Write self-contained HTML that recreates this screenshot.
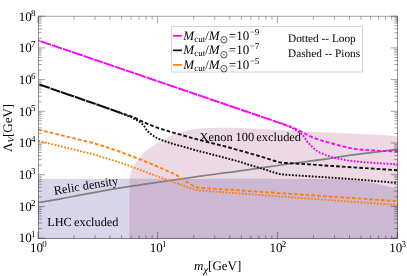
<!DOCTYPE html><html><head><meta charset="utf-8"><title>plot</title>
<style>html,body{margin:0;padding:0;background:#fff}svg{display:block;will-change:transform}text{text-rendering:geometricPrecision;font-family:"Liberation Serif","DejaVu Serif",serif;fill:#000}</style></head><body>
<svg width="407" height="276" viewBox="0 0 407 276">
<rect width="407" height="276" fill="#fff"/>
<defs><clipPath id="c"><rect x="38.0" y="16.0" width="360.0" height="223.0"/></clipPath></defs>
<g clip-path="url(#c)">
<path d="M38.00,178.90 C125.33,178.90 212.67,178.78 300.00,178.90 C313.33,178.92 326.68,178.83 340.00,179.30 C346.68,179.53 353.36,180.20 360.00,181.00 C365.03,181.60 370.02,182.54 375.00,183.50 C378.36,184.14 381.67,185.00 385.00,185.80 C389.34,186.84 393.67,187.93 398.00,189.00 L398,240 L38,240 Z" fill="rgb(60,50,145)" fill-opacity="0.2"/>
<path d="M129.30,240.00 C129.33,226.67 129.29,213.33 129.40,200.00 C129.46,192.90 129.42,185.78 129.80,178.70 C129.92,176.51 130.34,174.31 130.90,172.20 C131.40,170.31 132.07,168.41 133.00,166.70 C134.24,164.41 135.82,162.28 137.40,160.20 C138.72,158.45 140.15,156.75 141.70,155.20 C143.78,153.12 145.98,151.11 148.30,149.30 C151.08,147.14 154.01,145.16 157.00,143.30 C159.81,141.56 162.74,139.99 165.70,138.50 C169.24,136.72 172.80,134.91 176.50,133.50 C180.04,132.15 183.70,131.00 187.40,130.20 C191.53,129.30 195.78,128.75 200.00,128.40 C204.98,127.99 210.00,127.95 215.00,127.90 C223.33,127.82 231.67,127.76 240.00,128.00 C250.01,128.29 260.00,128.97 270.00,129.50 C280.00,130.03 290.00,130.70 300.00,131.20 C313.33,131.87 326.67,132.35 340.00,133.00 C350.00,133.49 360.00,134.03 370.00,134.60 C379.34,135.13 388.67,135.73 398.00,136.30 L398,240 Z" fill="rgb(160,65,120)" fill-opacity="0.2"/>
<path d="M38.50,202.50 C45.87,201.27 53.25,200.12 60.60,198.80 C68.85,197.32 77.06,195.62 85.30,194.10 C93.49,192.59 101.69,191.12 109.90,189.70 C118.09,188.28 126.29,186.89 134.50,185.60 C137.99,185.05 141.51,184.70 145.00,184.20 C164.67,181.37 184.32,178.36 204.00,175.60 C214.32,174.16 224.68,173.02 235.00,171.60 C244.84,170.25 254.66,168.70 264.50,167.30 C274.33,165.90 284.16,164.52 294.00,163.20 C302.49,162.06 311.01,161.10 319.50,159.90 C329.35,158.50 339.14,156.73 349.00,155.40 C365.14,153.23 381.33,151.40 397.50,149.40" fill="none" stroke="#808080" stroke-width="1.7"/>
<path d="M38.50,40.50 C62.33,48.63 86.17,56.76 110.00,64.90 C140.00,75.16 170.00,85.44 200.00,95.70 C227.66,105.16 255.33,114.60 283.00,124.05" fill="none" stroke="#ff00ff" stroke-width="1.9" stroke-dasharray="11.4,1.0,10.5,0.9,8.7,0.8" stroke-dashoffset="-2"/>
<path d="M283.00,124.00 C286.13,125.13 289.32,126.14 292.40,127.40 C294.88,128.41 297.30,129.61 299.70,130.80 C302.20,132.04 304.59,133.48 307.10,134.70 C309.53,135.88 311.99,137.00 314.50,138.00 C316.93,138.97 319.41,139.80 321.90,140.60 C324.31,141.37 326.76,142.02 329.20,142.70 C331.66,143.39 334.13,144.05 336.60,144.70 C339.06,145.35 341.52,146.02 344.00,146.60 C347.55,147.42 351.09,148.39 354.70,148.90 C359.59,149.59 364.56,149.85 369.50,150.20 C374.39,150.55 379.30,150.79 384.20,151.00 C388.63,151.19 393.07,151.27 397.50,151.40" fill="none" stroke="#ff00ff" stroke-width="1.9000000000000001" stroke-dasharray="3.7,2.1" stroke-dashoffset="0"/>
<path d="M283.00,124.20 C286.13,125.53 289.33,126.74 292.40,128.20 C294.33,129.11 296.22,130.13 298.00,131.30 C299.42,132.23 300.77,133.33 302.00,134.50 C302.97,135.43 303.79,136.52 304.60,137.60 C305.49,138.79 306.16,140.15 307.10,141.30 C308.46,142.98 309.99,144.54 311.50,146.10 C312.63,147.27 313.72,148.51 315.00,149.50 C316.39,150.58 317.93,151.51 319.50,152.30 C321.89,153.51 324.38,154.57 326.90,155.50 C329.28,156.37 331.74,157.06 334.20,157.70 C336.64,158.33 339.12,158.81 341.60,159.30 C344.06,159.78 346.52,160.29 349.00,160.60 C354.32,161.26 359.66,161.73 365.00,162.20 C369.99,162.63 375.00,162.98 380.00,163.30 C385.83,163.68 391.67,163.97 397.50,164.30" fill="none" stroke="#ff00ff" stroke-width="1.9000000000000001" stroke-dasharray="1.8,1.5" stroke-dashoffset="0"/>
<path d="M38.50,84.20 C57.33,90.73 76.18,97.24 95.00,103.80 C102.68,106.47 110.33,109.20 118.00,111.90" fill="none" stroke="#101010" stroke-width="2.1" stroke-dasharray="10.9,0.9,10.1,0.8,14.0,0.9" stroke-dashoffset="-1"/>
<path d="M118.00,111.85 C120.33,112.67 122.68,113.46 125.00,114.30 C128.34,115.51 131.72,116.65 135.00,118.00 C136.89,118.78 138.64,119.87 140.50,120.70 C145.14,122.77 149.75,124.93 154.50,126.70 C159.31,128.50 164.28,129.90 169.20,131.40 C174.11,132.90 179.06,134.30 184.00,135.70 C190.02,137.40 196.04,139.12 202.10,140.70 C209.44,142.62 216.85,144.29 224.20,146.20 C229.15,147.49 234.07,148.93 239.00,150.30 C242.57,151.29 246.14,152.27 249.70,153.30 C254.64,154.73 259.58,156.19 264.50,157.70 C267.95,158.76 271.36,159.91 274.80,161.00 C275.86,161.34 276.92,161.72 278.00,162.00 C278.99,162.25 279.99,162.48 281.00,162.60 C282.86,162.82 284.73,162.89 286.60,163.00 C289.07,163.15 291.53,163.24 294.00,163.40 C302.50,163.94 311.00,164.53 319.50,165.10 C329.33,165.76 339.17,166.46 349.00,167.10 C365.17,168.16 381.33,169.17 397.50,170.20" fill="none" stroke="#101010" stroke-width="1.9000000000000001" stroke-dasharray="3.7,2.1" stroke-dashoffset="0"/>
<path d="M118.00,112.10 C120.33,113.00 122.68,113.87 125.00,114.80 C127.34,115.74 129.71,116.64 132.00,117.70 C134.04,118.64 136.07,119.66 138.00,120.80 C139.23,121.53 140.42,122.36 141.50,123.30 C142.49,124.16 143.39,125.16 144.20,126.20 C145.26,127.56 145.97,129.21 147.10,130.50 C148.40,131.98 149.92,133.32 151.50,134.50 C153.35,135.88 155.35,137.12 157.40,138.20 C159.28,139.19 161.31,139.94 163.30,140.70 C165.24,141.44 167.22,142.07 169.20,142.70 C171.65,143.47 174.12,144.21 176.60,144.90 C179.05,145.58 181.55,146.11 184.00,146.80 C187.58,147.81 191.11,149.01 194.70,150.00 C199.61,151.35 204.57,152.53 209.50,153.80 C214.40,155.06 219.31,156.31 224.20,157.60 C229.14,158.91 234.09,160.18 239.00,161.60 C242.59,162.64 246.12,163.91 249.70,165.00 C254.62,166.51 259.58,167.89 264.50,169.40 C267.95,170.46 271.36,171.63 274.80,172.70 C276.19,173.13 277.58,173.59 279.00,173.90 C280.31,174.19 281.66,174.37 283.00,174.50 C286.66,174.84 290.33,175.06 294.00,175.30 C302.50,175.86 311.00,176.34 319.50,176.90 C329.33,177.54 339.17,178.14 349.00,178.90 C365.17,180.14 381.33,181.57 397.50,182.90" fill="none" stroke="#101010" stroke-width="1.9000000000000001" stroke-dasharray="1.8,1.5" stroke-dashoffset="0"/>
<path d="M38.50,129.70 C47.67,131.93 56.84,134.15 66.00,136.40 C75.67,138.78 85.37,141.06 95.00,143.60 C98.27,144.46 101.48,145.55 104.70,146.60 C109.65,148.22 114.60,149.84 119.50,151.60 C124.43,153.37 129.31,155.31 134.20,157.20 C139.14,159.11 144.09,161.00 149.00,163.00 C152.59,164.47 156.15,166.04 159.70,167.60 C164.65,169.77 169.67,171.81 174.50,174.20 C177.07,175.47 179.47,177.08 181.90,178.60 C184.37,180.14 186.71,181.89 189.20,183.40 C191.11,184.56 193.05,185.75 195.10,186.60 C196.52,187.19 198.08,187.46 199.60,187.70 C201.05,187.93 202.53,187.90 204.00,188.00 C219.33,189.03 234.67,190.06 250.00,191.10 C266.10,192.19 282.20,193.31 298.30,194.40 C315.53,195.57 332.77,196.74 350.00,197.90 C365.83,198.97 381.67,200.03 397.50,201.10" fill="none" stroke="#ff8010" stroke-width="1.9" stroke-dasharray="3.7,2.1" stroke-dashoffset="0"/>
<path d="M38.50,140.90 C47.67,143.13 56.84,145.35 66.00,147.60 C75.67,149.98 85.38,152.24 95.00,154.80 C98.28,155.67 101.46,156.89 104.70,157.90 C109.62,159.43 114.60,160.79 119.50,162.40 C124.44,164.02 129.32,165.81 134.20,167.60 C139.15,169.41 144.06,171.34 149.00,173.20 C152.56,174.54 156.11,175.92 159.70,177.20 C164.61,178.95 169.59,180.53 174.50,182.30 C177.46,183.37 180.35,184.62 183.30,185.70 C186.25,186.78 189.20,187.89 192.20,188.80 C194.13,189.39 196.11,189.86 198.10,190.20 C200.04,190.53 202.03,190.65 204.00,190.80 C219.33,191.98 234.67,193.06 250.00,194.20 C266.10,195.40 282.20,196.61 298.30,197.80 C315.53,199.08 332.77,200.35 350.00,201.60 C365.83,202.75 381.67,203.87 397.50,205.00" fill="none" stroke="#ff8010" stroke-width="1.8" stroke-dasharray="1.8,1.5" stroke-dashoffset="0"/>
</g>
<path d="M38.5,16.3H397.5" fill="none" stroke="#000" stroke-opacity="0.6" stroke-width="0.6"/>
<path d="M38.5,16.3V238.5 M397.5,16.3V238.5 M38.2,238.5H397.8" fill="none" stroke="#000" stroke-opacity="0.6" stroke-width="0.7"/>
<path d="M37.90,238.5v-6.6 M37.90,16.5v6.6 M73.95,238.5v-3.2 M73.95,16.5v3.2 M95.04,238.5v-3.2 M95.04,16.5v3.2 M110.00,238.5v-3.2 M110.00,16.5v3.2 M121.60,238.5v-3.2 M121.60,16.5v3.2 M131.08,238.5v-3.2 M131.08,16.5v3.2 M139.10,238.5v-3.2 M139.10,16.5v3.2 M146.05,238.5v-3.2 M146.05,16.5v3.2 M152.17,238.5v-3.2 M152.17,16.5v3.2 M157.65,238.5v-6.6 M157.65,16.5v6.6 M193.70,238.5v-3.2 M193.70,16.5v3.2 M214.79,238.5v-3.2 M214.79,16.5v3.2 M229.75,238.5v-3.2 M229.75,16.5v3.2 M241.35,238.5v-3.2 M241.35,16.5v3.2 M250.83,238.5v-3.2 M250.83,16.5v3.2 M258.85,238.5v-3.2 M258.85,16.5v3.2 M265.80,238.5v-3.2 M265.80,16.5v3.2 M271.92,238.5v-3.2 M271.92,16.5v3.2 M277.40,238.5v-6.6 M277.40,16.5v6.6 M313.45,238.5v-3.2 M313.45,16.5v3.2 M334.54,238.5v-3.2 M334.54,16.5v3.2 M349.50,238.5v-3.2 M349.50,16.5v3.2 M361.10,238.5v-3.2 M361.10,16.5v3.2 M370.58,238.5v-3.2 M370.58,16.5v3.2 M378.60,238.5v-3.2 M378.60,16.5v3.2 M385.55,238.5v-3.2 M385.55,16.5v3.2 M391.67,238.5v-3.2 M391.67,16.5v3.2 M397.15,238.5v-6.6 M397.15,16.5v6.6 M38.5,238.10h6.6 M397.5,238.10h-6.6 M38.5,228.56h3.2 M397.5,228.56h-3.2 M38.5,222.98h3.2 M397.5,222.98h-3.2 M38.5,219.01h3.2 M397.5,219.01h-3.2 M38.5,215.94h3.2 M397.5,215.94h-3.2 M38.5,213.43h3.2 M397.5,213.43h-3.2 M38.5,211.31h3.2 M397.5,211.31h-3.2 M38.5,209.47h3.2 M397.5,209.47h-3.2 M38.5,207.85h3.2 M397.5,207.85h-3.2 M38.5,206.40h6.6 M397.5,206.40h-6.6 M38.5,196.86h3.2 M397.5,196.86h-3.2 M38.5,191.28h3.2 M397.5,191.28h-3.2 M38.5,187.31h3.2 M397.5,187.31h-3.2 M38.5,184.24h3.2 M397.5,184.24h-3.2 M38.5,181.73h3.2 M397.5,181.73h-3.2 M38.5,179.61h3.2 M397.5,179.61h-3.2 M38.5,177.77h3.2 M397.5,177.77h-3.2 M38.5,176.15h3.2 M397.5,176.15h-3.2 M38.5,174.70h6.6 M397.5,174.70h-6.6 M38.5,165.16h3.2 M397.5,165.16h-3.2 M38.5,159.58h3.2 M397.5,159.58h-3.2 M38.5,155.61h3.2 M397.5,155.61h-3.2 M38.5,152.54h3.2 M397.5,152.54h-3.2 M38.5,150.03h3.2 M397.5,150.03h-3.2 M38.5,147.91h3.2 M397.5,147.91h-3.2 M38.5,146.07h3.2 M397.5,146.07h-3.2 M38.5,144.45h3.2 M397.5,144.45h-3.2 M38.5,143.00h6.6 M397.5,143.00h-6.6 M38.5,133.46h3.2 M397.5,133.46h-3.2 M38.5,127.88h3.2 M397.5,127.88h-3.2 M38.5,123.91h3.2 M397.5,123.91h-3.2 M38.5,120.84h3.2 M397.5,120.84h-3.2 M38.5,118.33h3.2 M397.5,118.33h-3.2 M38.5,116.21h3.2 M397.5,116.21h-3.2 M38.5,114.37h3.2 M397.5,114.37h-3.2 M38.5,112.75h3.2 M397.5,112.75h-3.2 M38.5,111.30h6.6 M397.5,111.30h-6.6 M38.5,101.76h3.2 M397.5,101.76h-3.2 M38.5,96.18h3.2 M397.5,96.18h-3.2 M38.5,92.21h3.2 M397.5,92.21h-3.2 M38.5,89.14h3.2 M397.5,89.14h-3.2 M38.5,86.63h3.2 M397.5,86.63h-3.2 M38.5,84.51h3.2 M397.5,84.51h-3.2 M38.5,82.67h3.2 M397.5,82.67h-3.2 M38.5,81.05h3.2 M397.5,81.05h-3.2 M38.5,79.60h6.6 M397.5,79.60h-6.6 M38.5,70.06h3.2 M397.5,70.06h-3.2 M38.5,64.48h3.2 M397.5,64.48h-3.2 M38.5,60.51h3.2 M397.5,60.51h-3.2 M38.5,57.44h3.2 M397.5,57.44h-3.2 M38.5,54.93h3.2 M397.5,54.93h-3.2 M38.5,52.81h3.2 M397.5,52.81h-3.2 M38.5,50.97h3.2 M397.5,50.97h-3.2 M38.5,49.35h3.2 M397.5,49.35h-3.2 M38.5,47.90h6.6 M397.5,47.90h-6.6 M38.5,38.36h3.2 M397.5,38.36h-3.2 M38.5,32.78h3.2 M397.5,32.78h-3.2 M38.5,28.81h3.2 M397.5,28.81h-3.2 M38.5,25.74h3.2 M397.5,25.74h-3.2 M38.5,23.23h3.2 M397.5,23.23h-3.2 M38.5,21.11h3.2 M397.5,21.11h-3.2 M38.5,19.27h3.2 M397.5,19.27h-3.2 M38.5,17.65h3.2 M397.5,17.65h-3.2 M38.5,16.20h6.6 M397.5,16.20h-6.6" fill="none" stroke="#000" stroke-opacity="0.62" stroke-width="0.6"/>
<text x="35.5" y="242.40" text-anchor="end" font-size="13">10<tspan dx="-0.8" dy="-5" font-size="9">1</tspan></text>
<text x="35.5" y="210.70" text-anchor="end" font-size="13">10<tspan dx="-0.8" dy="-5" font-size="9">2</tspan></text>
<text x="35.5" y="179.00" text-anchor="end" font-size="13">10<tspan dx="-0.8" dy="-5" font-size="9">3</tspan></text>
<text x="35.5" y="147.30" text-anchor="end" font-size="13">10<tspan dx="-0.8" dy="-5" font-size="9">4</tspan></text>
<text x="35.5" y="115.60" text-anchor="end" font-size="13">10<tspan dx="-0.8" dy="-5" font-size="9">5</tspan></text>
<text x="35.5" y="83.90" text-anchor="end" font-size="13">10<tspan dx="-0.8" dy="-5" font-size="9">6</tspan></text>
<text x="35.5" y="52.20" text-anchor="end" font-size="13">10<tspan dx="-0.8" dy="-5" font-size="9">7</tspan></text>
<text x="35.5" y="20.50" text-anchor="end" font-size="13">10<tspan dx="-0.8" dy="-5" font-size="9">8</tspan></text>
<text x="38.40" y="251.7" text-anchor="middle" font-size="13">10<tspan dx="-0.8" dy="-5" font-size="9">0</tspan></text>
<text x="158.15" y="251.7" text-anchor="middle" font-size="13">10<tspan dx="-0.8" dy="-5" font-size="9">1</tspan></text>
<text x="277.90" y="251.7" text-anchor="middle" font-size="13">10<tspan dx="-0.8" dy="-5" font-size="9">2</tspan></text>
<text x="397.65" y="251.7" text-anchor="middle" font-size="13">10<tspan dx="-0.8" dy="-5" font-size="9">3</tspan></text>
<text x="217.7" y="270.3" text-anchor="middle" font-size="13"><tspan font-style="italic">m</tspan><tspan dy="2.6" font-size="10.5" font-style="italic">χ</tspan><tspan dy="-2.6">[GeV]</tspan></text>
<text transform="translate(11.8,127.9) rotate(-90)" text-anchor="middle" font-size="13">Λ<tspan dy="2.2" font-size="9" font-style="italic">V</tspan><tspan dy="-2.2">[GeV]</tspan></text>
<text y="141" font-size="12.4"><tspan x="199.6">Xenon </tspan><tspan x="235.6">100 </tspan><tspan x="256.3">excluded</tspan></text>
<text x="47.2" y="225.9" font-size="12.3" word-spacing="-0.8">LHC excluded</text>
<text transform="translate(54.4,194.7) rotate(-9)" font-size="12.4">Relic density</text>
<rect x="171.5" y="26.5" width="191" height="45.5" fill="#fff" stroke="#d6d6d6" stroke-width="1"/>
<path d="M173,35.8h9" stroke="#ff00ff" stroke-width="1.7"/>
<text y="39.80" font-size="13"><tspan x="183.3" font-style="italic">M</tspan><tspan font-size="9" dy="2">cut</tspan><tspan dy="-2">/</tspan><tspan font-style="italic">M</tspan><tspan x="219.6" dy="3.3" font-size="10.5" fill="#333" font-family="DejaVu Sans,sans-serif">⊙</tspan><tspan x="228.8" dy="-3.3">=10</tspan><tspan font-size="9" dx="0.6" dy="-5.2">−9</tspan></text>
<path d="M173,50.349999999999994h9" stroke="#101010" stroke-width="1.7"/>
<text y="54.35" font-size="13"><tspan x="183.3" font-style="italic">M</tspan><tspan font-size="9" dy="2">cut</tspan><tspan dy="-2">/</tspan><tspan font-style="italic">M</tspan><tspan x="219.6" dy="3.3" font-size="10.5" fill="#333" font-family="DejaVu Sans,sans-serif">⊙</tspan><tspan x="228.8" dy="-3.3">=10</tspan><tspan font-size="9" dx="0.6" dy="-5.2">−7</tspan></text>
<path d="M173,64.9h9" stroke="#ff8010" stroke-width="1.7"/>
<text y="68.90" font-size="13"><tspan x="183.3" font-style="italic">M</tspan><tspan font-size="9" dy="2">cut</tspan><tspan dy="-2">/</tspan><tspan font-style="italic">M</tspan><tspan x="219.6" dy="3.3" font-size="10.5" fill="#333" font-family="DejaVu Sans,sans-serif">⊙</tspan><tspan x="228.8" dy="-3.3">=10</tspan><tspan font-size="9" dx="0.6" dy="-5.2">−5</tspan></text>
<text x="288" y="41.9" font-size="11.3">Dotted -- Loop</text>
<text x="288" y="57.1" font-size="11.3">Dashed -- Pions</text>
</svg></body></html>
